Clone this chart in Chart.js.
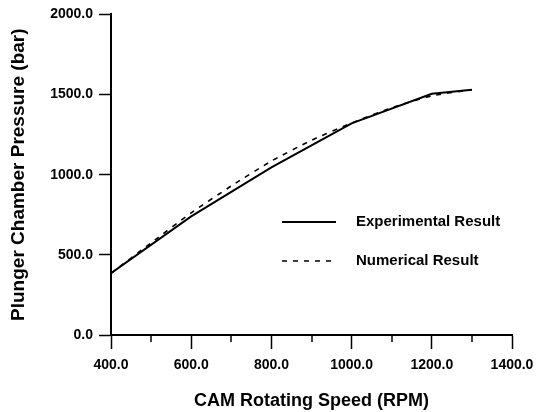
<!DOCTYPE html>
<html>
<head>
<meta charset="utf-8">
<script src="https://cdn.jsdelivr.net/npm/chart.js@4"></script>
<style>
  html, body { margin: 0; padding: 0; background: #fff; }
  #wrap { width: 551px; height: 412px; }
</style>
</head>
<body>
<div id="wrap"><canvas id="chart" width="551" height="412"></canvas></div>
<script>
// values
const expSpeed = [400, 600, 800, 1000, 1200, 1300];
const expPressure = [385, 740, 1045, 1320, 1505, 1530];
const numSpeed = [400, 500, 600, 700, 800, 900, 1000, 1100, 1200, 1300];
const numPressure = [385, 575, 762, 930, 1085, 1215, 1322, 1418, 1492, 1530];
const legendLabels = ['Experimental Result', 'Numerical Result'];

const FONT = '"Liberation Sans", Arial, sans-serif';

// minor ticks on the x axis + the legend inside the plot
const extras = {
    id: 'extras',
    afterDraw(chart) {
        const ctx = chart.ctx;
        const x = chart.scales.x;
        const y = chart.scales.y;
        ctx.save();
        ctx.strokeStyle = '#000';
        ctx.lineWidth = 1.5;
        for (let v = 500; v < 1400; v += 200) {
            const px = Math.round(x.getPixelForValue(v));
            ctx.beginPath();
            ctx.moveTo(px, y.bottom);
            ctx.lineTo(px, y.bottom + 7);
            ctx.stroke();
        }
        // legend
        const lx = 282, lw = 54;
        const rows = [222, 261];
        ctx.font = 'bold 15px ' + FONT;
        ctx.textBaseline = 'middle';
        ctx.fillStyle = '#000';
        rows.forEach((ry, i) => {
            ctx.lineWidth = i === 0 ? 2 : 1.6;
            ctx.setLineDash(i === 0 ? [] : [5, 6]);
            ctx.beginPath();
            ctx.moveTo(lx, ry);
            ctx.lineTo(lx + lw, ry);
            ctx.stroke();
            ctx.setLineDash([]);
            ctx.fillText(legendLabels[i], 356, ry);
        });
        ctx.restore();
    },
};

new Chart('chart', {
    type: 'line',
    data: {
        datasets: [
            {
                label: legendLabels[0],
                data: expSpeed.map((s, i) => ({ x: s, y: expPressure[i] })),
                borderColor: '#000',
                borderWidth: 2,
                pointRadius: 0,
                tension: 0,
            },
            {
                label: legendLabels[1],
                data: numSpeed.map((s, i) => ({ x: s, y: numPressure[i] })),
                borderColor: '#000',
                borderWidth: 1.6,
                borderDash: [5, 6],
                pointRadius: 0,
                tension: 0.2,
            },
        ],
    },
    options: {
        responsive: false,
        animation: false,
        layout: { padding: { top: 12, right: 39, left: 0, bottom: 0 } },
        plugins: {
            legend: { display: false },
            tooltip: { enabled: false },
        },
        scales: {
            x: {
                type: 'linear',
                min: 400,
                max: 1400,
                afterFit: (s) => { s.height = 77; },
                border: { color: '#000', width: 2 },
                grid: {
                    drawOnChartArea: false,
                    tickLength: 14,
                    tickWidth: 1.5,
                    tickColor: '#000',
                },
                ticks: {
                    stepSize: 200,
                    padding: 8,
                    color: '#000',
                    font: { family: FONT, size: 14, weight: 'bold' },
                    maxRotation: 0,
                    callback: (v) => v.toFixed(1),
                },
                title: {
                    display: true,
                    text: 'CAM Rotating Speed (RPM)',
                    color: '#000',
                    font: { family: FONT, size: 18, weight: 'bold' },
                    padding: { top: 9, bottom: 0 },
                },
            },
            y: {
                min: 0,
                max: 2000,
                afterFit: (s) => { s.width = 111; },
                border: { color: '#000', width: 2 },
                grid: {
                    drawOnChartArea: false,
                    tickLength: 12,
                    tickWidth: 1.5,
                    tickColor: '#000',
                },
                ticks: {
                    stepSize: 500,
                    padding: 6,
                    color: '#000',
                    font: { family: FONT, size: 14, weight: 'bold' },
                    callback: (v) => v.toFixed(1),
                },
                title: {
                    display: true,
                    text: 'Plunger Chamber Pressure (bar)',
                    color: '#000',
                    font: { family: FONT, size: 19, weight: 'bold' },
                    padding: { top: 7, bottom: 4 },
                },
            },
        },
    },
    plugins: [extras],
});
</script>
</body>
</html>
